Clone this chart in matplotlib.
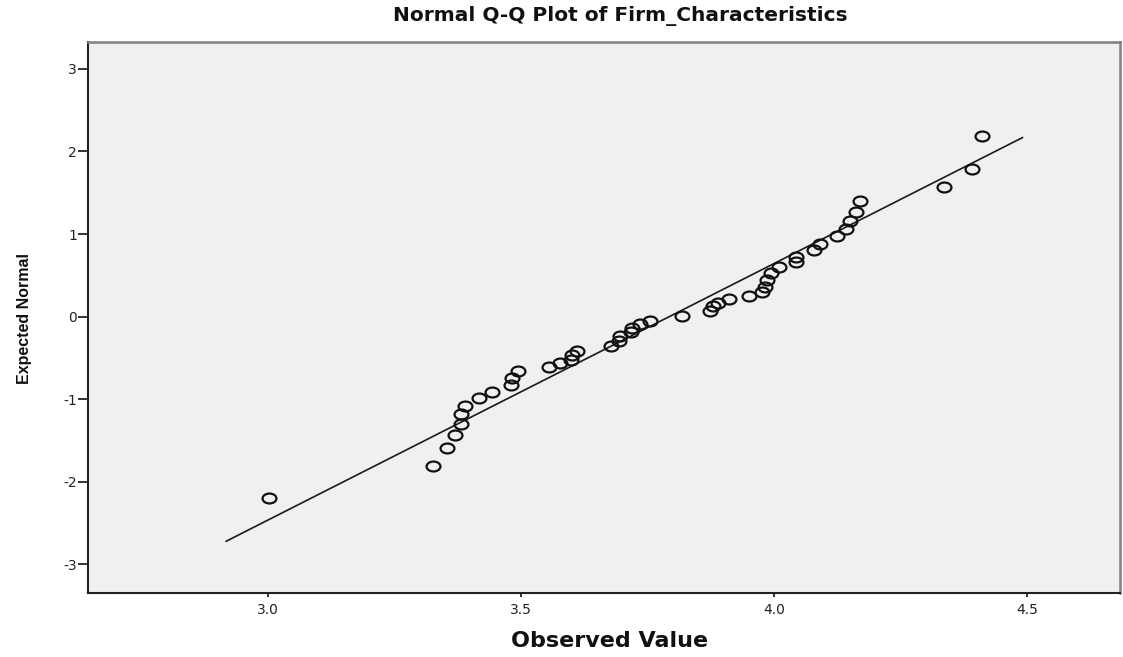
import numpy as np
import matplotlib
matplotlib.use("Agg")
from matplotlib import pyplot as plt
from matplotlib import font_manager
from matplotlib.path import Path
from matplotlib.transforms import Affine2D

plt.rcParams["axes.unicode_minus"] = False

observed = [3.002, 3.326, 3.353, 3.369, 3.381, 3.382, 3.390, 3.417, 3.443, 3.481,
            3.483, 3.494, 3.555, 3.576, 3.598, 3.601, 3.611, 3.677, 3.694, 3.695,
            3.717, 3.720, 3.735, 3.755, 3.819, 3.874, 3.879, 3.889, 3.910, 3.951,
            3.977, 3.982, 3.987, 3.993, 4.010, 4.043, 4.044, 4.078, 4.091, 4.124,
            4.143, 4.150, 4.162, 4.169, 4.335, 4.391, 4.411]
expected = [-2.20, -1.81, -1.59, -1.43, -1.295, -1.178, -1.077, -0.989, -0.908, -0.832,
            -0.743, -0.655, -0.610, -0.562, -0.522, -0.465, -0.413, -0.361, -0.300, -0.240,
            -0.192, -0.139, -0.091, -0.047, 0.010, 0.070, 0.125, 0.170, 0.211, 0.251,
            0.303, 0.364, 0.444, 0.533, 0.598, 0.666, 0.726, 0.803, 0.879, 0.972,
            1.058, 1.161, 1.270, 1.402, 1.568, 1.789, 2.184]

# reference line end points
line_x = [2.917, 4.491]
line_y = [-2.72, 2.168]

xticks = [3.0, 3.5, 4.0, 4.5]
xtick_labels = ["3.0", "3.5", "4.0", "4.5"]
yticks = [-3, -2, -1, 0, 1, 2, 3]

# the y label in the original looks narrow and heavy
installed = {f.name for f in font_manager.fontManager.ttflist}
if "Liberation Sans Narrow" in installed:
    ylab_font, ylab_size = "Liberation Sans Narrow", 14
else:
    ylab_font, ylab_size = "Liberation Sans", 11.5

# wide ellipse marker like the SPSS export
ring = Path.unit_circle().transformed(Affine2D().scale(1.4, 1.0))

fig = plt.figure(figsize=(11.23, 6.57), dpi=100)
ax = fig.add_axes([0.0784, 0.0970, 0.919, 0.8396])
ax.set_facecolor("#f0f0f0")

ax.plot(line_x, line_y, color="#1a1a1a", lw=1.2, zorder=2)
ax.plot(observed, expected, linestyle="none", marker=ring, markersize=10,
        markerfacecolor="none", markeredgecolor="#111111", markeredgewidth=1.6, zorder=3)

ax.set_xlim(2.644, 4.684)
ax.set_ylim(-3.35, 3.33)
ax.set_xticks(xticks)
ax.set_xticklabels(xtick_labels)
ax.set_yticks(yticks)

ax.tick_params(axis="x", length=3, width=1.3, pad=4, labelsize=10, colors="#222222")
ax.tick_params(axis="y", length=7, width=1.3, pad=1, labelsize=10, colors="#222222")

for side in ["left", "bottom"]:
    ax.spines[side].set_color("#222222")
    ax.spines[side].set_linewidth(1.5)
for side in ["top", "right"]:
    ax.spines[side].set_color("#808080")
    ax.spines[side].set_linewidth(1.8)

fig.text(0.552, 0.976, "Normal Q-Q Plot of Firm_Characteristics", ha="center", va="center",
         fontsize=14.5, fontweight="bold", color="#111111")
fig.text(0.543, 0.025, "Observed Value", ha="center", va="center",
         fontsize=16, fontweight="bold", color="#111111")
fig.text(0.022, 0.515, "Expected Normal", ha="center", va="center", rotation=90,
         fontsize=ylab_size, fontweight="bold", family=ylab_font, color="#111111")

fig.savefig("out.png", dpi=100, facecolor="white")
